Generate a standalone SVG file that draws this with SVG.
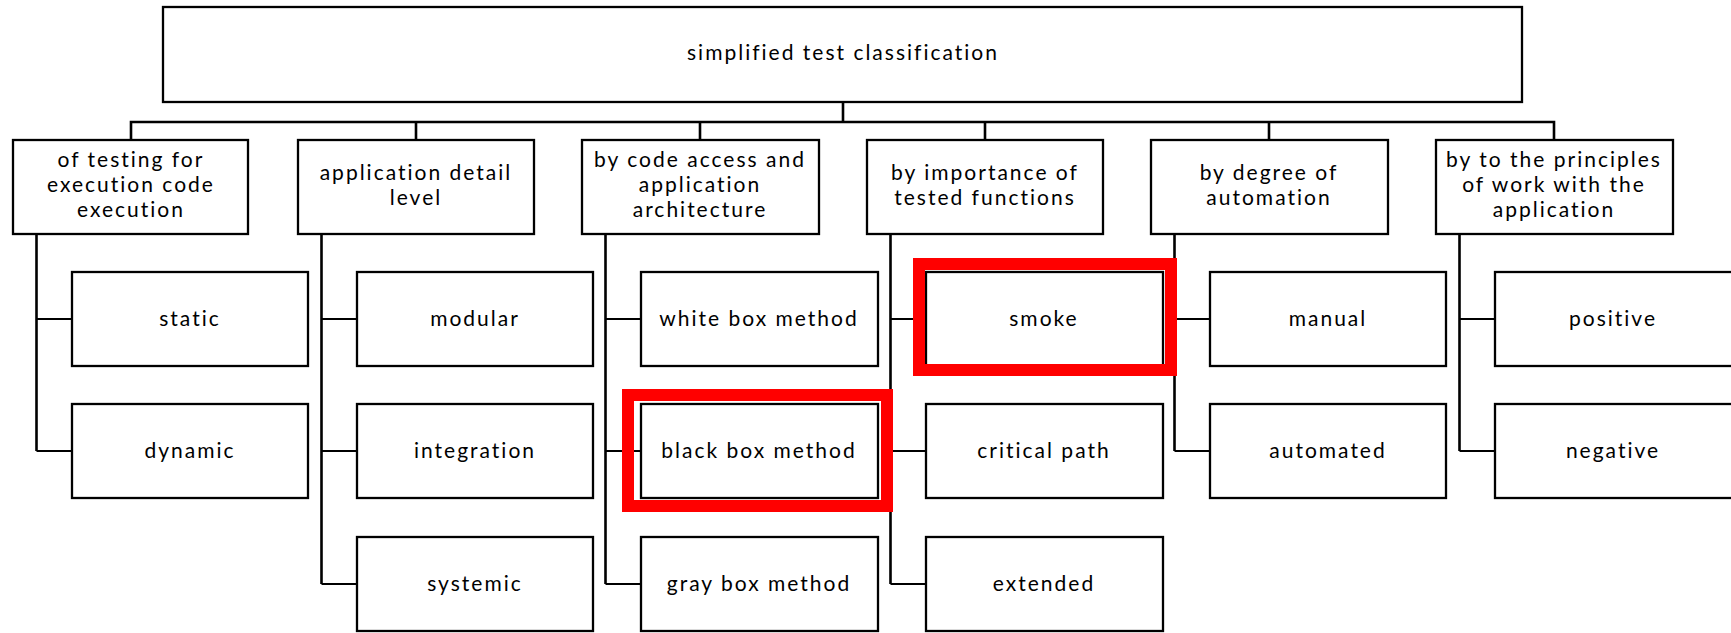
<svg xmlns="http://www.w3.org/2000/svg" width="1731" height="633" viewBox="0 0 1731 633">
<style>
.box{fill:#fff;stroke:#000;stroke-width:2.3}
.t{font-family:Lato,"Open Sans",sans-serif;font-size:21px;letter-spacing:2px;fill:#000;text-anchor:middle}
.c{fill:none;stroke:#000;stroke-width:2.6}
.ch{fill:none;stroke:#000;stroke-width:1.9}
.hl{fill:none;stroke:#ff0000;stroke-width:12}
</style>
<rect width="1731" height="633" fill="#fff"/>
<g id="connectors">
<path class="c" d="M843 102V122M131 140V122H1554V140M416 122V140M700 122V140M985 122V140M1269 122V140"/>
<path class="c" d="M36.5 234V451M321.5 234V584M605.5 234V584M890.5 234V584M1174.5 234V451M1459.5 234V451"/>
<path class="ch" d="M36.5 319H72M36.5 451H72M321.5 319H357M321.5 451H357M321.5 584H357M605.5 319H641M605.5 451H641M605.5 584H641M890.5 319H926M890.5 451H926M890.5 584H926M1174.5 319H1210M1174.5 451H1210M1459.5 319H1495M1459.5 451H1495"/>
</g>
<g id="root"><rect class="box" x="163" y="7" width="1359" height="95"/><text class="t" x="843" y="60">simplified test classification</text></g>
<g id="cat1"><rect class="box" x="13" y="140" width="235" height="94"/><text class="t" y="167"><tspan x="131">of testing for</tspan><tspan x="131" dy="25.2">execution code</tspan><tspan x="131" dy="25.2">execution</tspan></text></g>
<g id="cat2"><rect class="box" x="298" y="140" width="236" height="94"/><text class="t" y="180"><tspan x="416">application detail</tspan><tspan x="416" dy="25.2">level</tspan></text></g>
<g id="cat3"><rect class="box" x="582" y="140" width="237" height="94"/><text class="t" y="167"><tspan x="700">by code access and</tspan><tspan x="700" dy="25.2">application</tspan><tspan x="700" dy="25.2">architecture</tspan></text></g>
<g id="cat4"><rect class="box" x="867" y="140" width="236" height="94"/><text class="t" y="180"><tspan x="985">by importance of</tspan><tspan x="985" dy="25.2">tested functions</tspan></text></g>
<g id="cat5"><rect class="box" x="1151" y="140" width="237" height="94"/><text class="t" y="180"><tspan x="1269">by degree of</tspan><tspan x="1269" dy="25.2">automation</tspan></text></g>
<g id="cat6"><rect class="box" x="1436" y="140" width="237" height="94"/><text class="t" y="167"><tspan x="1554">by to the principles</tspan><tspan x="1554" dy="25.2">of work with the</tspan><tspan x="1554" dy="25.2">application</tspan></text></g>
<g id="static"><rect class="box" x="72" y="272" width="236" height="94"/><text class="t" x="190" y="326">static</text></g>
<g id="dynamic"><rect class="box" x="72" y="404" width="236" height="94"/><text class="t" x="190" y="458">dynamic</text></g>
<g id="modular"><rect class="box" x="357" y="272" width="236" height="94"/><text class="t" x="475" y="326">modular</text></g>
<g id="integration"><rect class="box" x="357" y="404" width="236" height="94"/><text class="t" x="475" y="458">integration</text></g>
<g id="systemic"><rect class="box" x="357" y="537" width="236" height="94"/><text class="t" x="475" y="591">systemic</text></g>
<g id="white"><rect class="box" x="641" y="272" width="237" height="94"/><text class="t" x="759" y="326">white box method</text></g>
<g id="black"><rect class="box" x="641" y="404" width="237" height="94"/><text class="t" x="759" y="458">black box method</text><rect class="hl" x="628" y="395" width="259" height="111" stroke-width="11"/></g>
<g id="gray"><rect class="box" x="641" y="537" width="237" height="94"/><text class="t" x="759" y="591">gray box method</text></g>
<g id="smoke"><rect class="box" x="926" y="272" width="237" height="94"/><text class="t" x="1044" y="326">smoke</text><rect class="hl" x="919" y="264" width="252" height="106"/></g>
<g id="critical"><rect class="box" x="926" y="404" width="237" height="94"/><text class="t" x="1044" y="458">critical path</text></g>
<g id="extended"><rect class="box" x="926" y="537" width="237" height="94"/><text class="t" x="1044" y="591">extended</text></g>
<g id="manual"><rect class="box" x="1210" y="272" width="236" height="94"/><text class="t" x="1328" y="326">manual</text></g>
<g id="automated"><rect class="box" x="1210" y="404" width="236" height="94"/><text class="t" x="1328" y="458">automated</text></g>
<g id="positive"><rect class="box" x="1495" y="272" width="240" height="94"/><text class="t" x="1613" y="326">positive</text></g>
<g id="negative"><rect class="box" x="1495" y="404" width="240" height="94"/><text class="t" x="1613" y="458">negative</text></g>
</svg>
